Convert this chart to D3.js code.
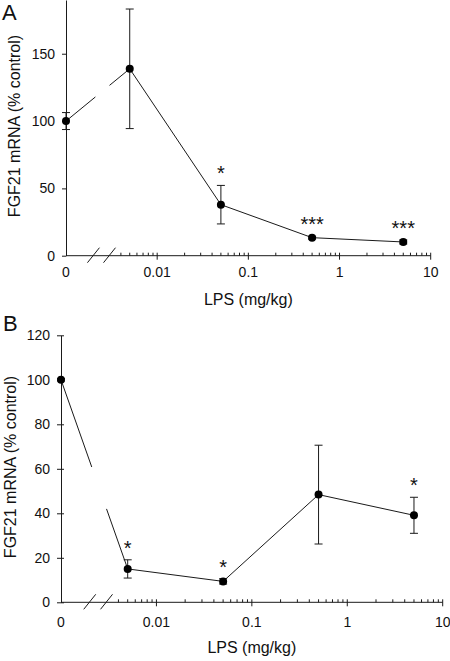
<!DOCTYPE html>
<html>
<head>
<meta charset="utf-8">
<script src="https://cdn.jsdelivr.net/npm/d3@7"></script>
<style>
  html, body { margin: 0; padding: 0; background: #fff; }
  svg { display: block; font-family: "Liberation Sans", Arial, sans-serif; }
</style>
</head>
<body>
<svg id="chart" width="450" height="661"></svg>
<script>
// ---- data ----
const doses = [0, 0.005, 0.05, 0.5, 5];
const xTickValues = [0.001, 0.01, 0.1, 1, 10];
const xTickLabels = ["0", "0.01", "0.1", "1", "10"];
const meanA = [100, 138.8, 37.9, 13.4, 10.2];
const errA = [6.3, 44.4, 14.3, 1.0, 1.5];
const sigA = ["", "", "*", "***", "***"];
const meanB = [100, 15.0, 9.4, 48.4, 39.1];
const errB = [0.5, 4.1, 1.2, 22.2, 8.1];
const sigB = ["", "*", "*", "", "*"];
const yTicksA = [0, 50, 100, 150];
const yTicksB = [0, 20, 40, 60, 80, 100, 120];
const xTitle = "LPS (mg/kg)";
const yTitle = "FGF21 mRNA (% control)";

// layout constants
const ZERO_POS = 0.001;        // where dose 0 sits on the log axis
const BREAK_MARKS = [0.002, 0.003];
const LINE_GAP = [0.0021, 0.003];

const svg = d3.select("#chart");
const ink = "#1a1a1a";

function drawPanel(cfg) {
  const g = svg.append("g");
  const x = d3.scaleLog().domain([ZERO_POS, 10]).range([cfg.x0, cfg.x1]);
  const y = d3.scaleLinear().domain([0, cfg.yMax]).range([cfg.yBottom, cfg.yTop]);
  const xp = d => x(d === 0 ? ZERO_POS : d);

  // y axis
  const yAxis = d3.axisLeft(y).tickValues(cfg.yTicks).tickSize(4).tickPadding(7)
    .tickSizeOuter(0);
  const ya = g.append("g").attr("transform", `translate(${cfg.x0},0)`).call(yAxis);
  ya.select(".domain").attr("stroke", ink);
  ya.selectAll(".tick line").attr("stroke", ink).attr("x2", -4).attr("x1", cfg.tickInside);
  ya.selectAll(".tick text").attr("font-size", 14).attr("fill", "#111")
    .attr("font-family", "Liberation Sans, Arial, sans-serif");

  // x axis line
  g.append("line").attr("x1", cfg.x0).attr("x2", cfg.x1)
    .attr("y1", cfg.yBottom).attr("y2", cfg.yBottom).attr("stroke", ink);
  // minor ticks
  const minor = [];
  [0.001, 0.01, 0.1, 1].forEach(dec => {
    for (let k = 2; k <= 9; k++) {
      const v = dec * k;
      if (v >= 0.0035) minor.push(v);
    }
  });
  g.selectAll(".minor").data(minor).enter().append("line")
    .attr("x1", d => x(d)).attr("x2", d => x(d))
    .attr("y1", cfg.yBottom).attr("y2", cfg.yBottom - 3).attr("stroke", ink);
  // major ticks
  g.selectAll(".major").data(xTickValues.slice(1)).enter().append("line")
    .attr("x1", d => x(d)).attr("x2", d => x(d))
    .attr("y1", cfg.yBottom - 3).attr("y2", cfg.yBottom + 4).attr("stroke", ink);
  // tick labels
  g.selectAll(".xl").data(xTickValues).enter().append("text")
    .attr("x", d => x(d)).attr("y", cfg.xLabelY)
    .attr("text-anchor", "middle").attr("font-size", 14).attr("fill", "#111")
    .text((d, i) => xTickLabels[i]);
  // break marks
  g.selectAll(".brk").data(BREAK_MARKS).enter().append("line")
    .attr("x1", d => x(d) - 6).attr("x2", d => x(d) + 6)
    .attr("y1", cfg.yBottom + 7).attr("y2", cfg.yBottom - 8)
    .attr("stroke", ink);

  // titles
  g.append("text").attr("x", (cfg.x0 + cfg.x1) / 2 + cfg.xTitleDx).attr("y", cfg.xTitleY)
    .attr("text-anchor", "middle").attr("font-size", 16).attr("fill", "#111").text(xTitle);
  g.append("text")
    .attr("transform", `translate(${cfg.yTitleX},${cfg.yTitleY}) rotate(-90)`)
    .attr("text-anchor", "middle").attr("font-size", 16).attr("fill", "#111").text(yTitle);
  g.append("text").attr("x", cfg.letterX).attr("y", cfg.letterY)
    .attr("font-size", 22).attr("fill", "#111").text(cfg.letter);

  // connecting line with gap across the axis break
  const pts = doses.map((d, i) => [xp(d), y(cfg.mean[i])]);
  const gx0 = x(LINE_GAP[0]), gx1 = x(LINE_GAP[1]);
  const lerp = (a, b, px) => [px, a[1] + (b[1] - a[1]) * (px - a[0]) / (b[0] - a[0])];
  const segs = [
    [pts[0], lerp(pts[0], pts[1], gx0)],
    [lerp(pts[0], pts[1], gx1), ...pts.slice(1)]
  ];
  const line = d3.line();
  segs.forEach(s => g.append("path").attr("d", line(s))
    .attr("fill", "none").attr("stroke", ink).attr("stroke-width", 1));

  // error bars
  doses.forEach((d, i) => {
    const cx = xp(d), top = y(cfg.mean[i] + cfg.err[i]), bot = y(cfg.mean[i] - cfg.err[i]);
    g.append("line").attr("x1", cx).attr("x2", cx).attr("y1", top).attr("y2", bot).attr("stroke", ink);
    [top, bot].forEach(yy => g.append("line").attr("x1", cx - 4).attr("x2", cx + 4)
      .attr("y1", yy).attr("y2", yy).attr("stroke", ink));
  });
  // points
  g.selectAll(".pt").data(doses).enter().append("circle")
    .attr("cx", d => xp(d)).attr("cy", (d, i) => y(cfg.mean[i])).attr("r", 4).attr("fill", "#000");
  // significance stars
  g.selectAll(".sig").data(doses).enter().append("text")
    .attr("x", d => xp(d)).attr("y", (d, i) => y(cfg.mean[i] + cfg.err[i]) - 5)
    .attr("text-anchor", "middle").attr("font-size", 20).attr("fill", "#111")
    .text((d, i) => cfg.sig[i]);
}

drawPanel({
  letter: "A", letterX: 2, letterY: 20,
  x0: 66, x1: 430.7, yBottom: 255.7, yTop: 0, yMax: 189.9,
  yTicks: yTicksA, tickInside: 0,
  mean: meanA, err: errA, sig: sigA,
  xLabelY: 277, xTitleY: 305, xTitleDx: 0,
  yTitleX: 20, yTitleY: 126
});
drawPanel({
  letter: "B", letterX: 3, letterY: 331,
  x0: 61, x1: 442.7, yBottom: 602.3, yTop: 335.3, yMax: 120,
  yTicks: yTicksB, tickInside: 3,
  mean: meanB, err: errB, sig: sigB,
  xLabelY: 627, xTitleY: 653, xTitleDx: 0,
  yTitleX: 16, yTitleY: 467
});
</script>
</body>
</html>
